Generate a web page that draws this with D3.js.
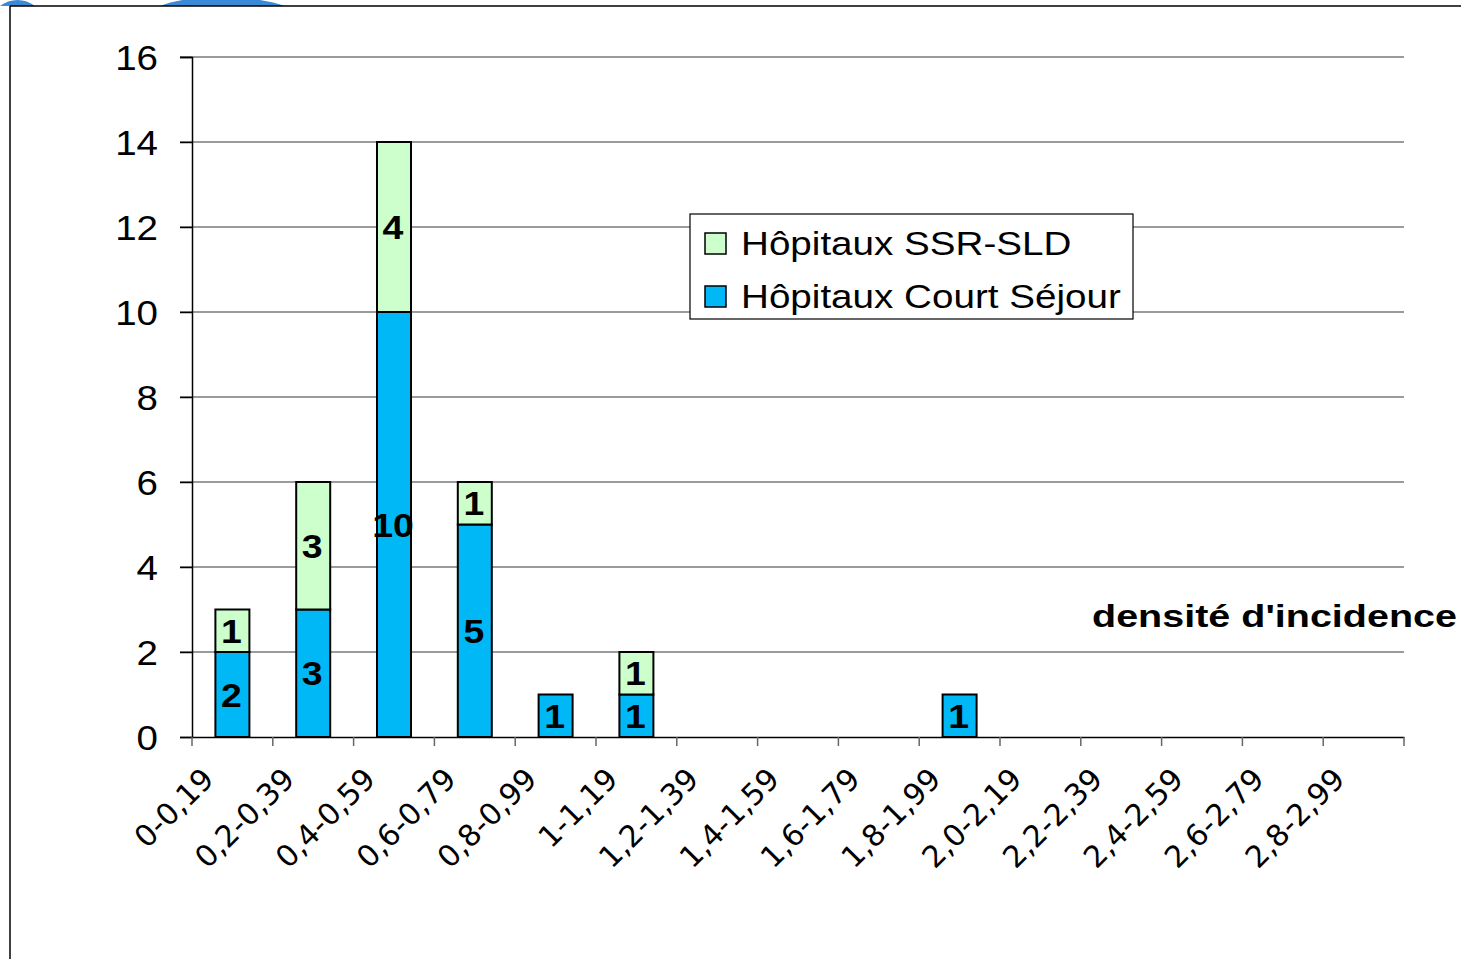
<!DOCTYPE html>
<html><head><meta charset="utf-8">
<script src="https://cdn.jsdelivr.net/npm/d3@7/dist/d3.min.js"></script>
<style>body{margin:0;background:#fff;}svg{display:block;}</style>
</head><body>
<svg id="c" width="1461" height="959"></svg>
<script>
const categories = ["0-0,19","0,2-0,39","0,4-0,59","0,6-0,79","0,8-0,99","1-1,19","1,2-1,39","1,4-1,59","1,6-1,79","1,8-1,99","2,0-2,19","2,2-2,39","2,4-2,59","2,6-2,79","2,8-2,99"];
const courtSejour = [2,3,10,5,1,1,0,0,0,1,0,0,0,0,0];
const ssrSld = [1,3,4,1,0,1,0,0,0,0,0,0,0,0,0];
const yTicks = [0,2,4,6,8,10,12,14,16];
const seriesNames = ["Hôpitaux SSR-SLD","Hôpitaux Court Séjour"];
const colors = {court:"#00B8F5", ssr:"#CCFFCC"};

const svg = d3.select("#c");
const W = 1461, H = 959;
const m = {left:192, right:1404, top:57, bottom:737};
const SANS = "Liberation Sans, Arial, sans-serif";

// decorative fragment at top-left
svg.append("path").attr("d","M0,6 C10,-2 25,-2 35,6 Z").attr("fill","#3a8ad8");
svg.append("path").attr("d","M160,6 C190,-6 250,-6 285,6 Z").attr("fill","#3a8ad8");
// frame
svg.append("line").attr("x1",10).attr("x2",W).attr("y1",6).attr("y2",6).attr("stroke","#000").attr("stroke-width",1.5);
svg.append("line").attr("x1",10).attr("x2",10).attr("y1",6).attr("y2",H).attr("stroke","#000").attr("stroke-width",1.5);

const x = d3.scaleBand().domain(categories).range([m.left, m.right]).paddingInner(0).paddingOuter(0);
const y = d3.scaleLinear().domain([0,16]).range([m.bottom, m.top]);

// gridlines
svg.append("g").selectAll("line").data(yTicks.filter(d=>d>0)).join("line")
  .attr("x1",m.left-12).attr("x2",m.right).attr("y1",d=>y(d)).attr("y2",d=>y(d))
  .attr("stroke","#7a7a7a").attr("stroke-width",1.5);

// y axis
const yAxis = d3.axisLeft(y).tickValues(yTicks).tickSize(12).tickPadding(0).tickFormat("");
const gy = svg.append("g").attr("transform",`translate(${m.left},0)`).call(yAxis);
gy.select(".domain").attr("stroke","#000").attr("stroke-width",1.5);
gy.selectAll(".tick line").attr("stroke","#000").attr("stroke-width",1.5);
svg.append("g").selectAll("text").data(yTicks).join("text")
  .attr("transform",d=>`translate(158,${y(d)}) scale(1.1,1)`)
  .attr("dy","0.36em").attr("text-anchor","end")
  .attr("font-family",SANS).attr("font-size",35).attr("fill","#000")
  .text(d=>d);

// bars
const stackData = categories.map((c,i)=>({cat:c, court:courtSejour[i], ssr:ssrSld[i]}));
const stack = d3.stack().keys(["court","ssr"])(stackData);
const bw = 34;
const bars = svg.append("g");
stack.forEach(layer=>{
  const key = layer.key;
  const segs = layer.filter(d=>d[1]-d[0]>0);
  bars.selectAll(null).data(segs).join("rect")
    .attr("x",d=>x(d.data.cat)+x.bandwidth()/2-bw/2)
    .attr("width",bw)
    .attr("y",d=>y(d[1]))
    .attr("height",d=>y(d[0])-y(d[1]))
    .attr("fill",colors[key]).attr("stroke","#000").attr("stroke-width",2);
  bars.selectAll(null).data(segs).join("text")
    .attr("transform",d=>`translate(${x(d.data.cat)+x.bandwidth()/2-1},${y((d[0]+d[1])/2)}) scale(1.1,1)`)
    .attr("dy","0.36em")
    .attr("text-anchor","middle")
    .attr("font-family",SANS).attr("font-weight","bold").attr("font-size",34)
    .attr("fill","#000")
    .text(d=>d[1]-d[0]);
});

// x axis
const xAxis = d3.axisBottom(x).tickSize(0).tickFormat("");
const gx = svg.append("g").attr("transform",`translate(0,${m.bottom})`).call(xAxis);
gx.select(".domain").attr("stroke","#000").attr("stroke-width",1.5);
const bounds = d3.range(categories.length+1).map(i=> i<categories.length ? x(categories[i]) : x(categories[i-1])+x.bandwidth());
svg.append("g").selectAll("line").data(bounds).join("line")
  .attr("x1",d=>d).attr("x2",d=>d).attr("y1",m.bottom).attr("y2",m.bottom+9)
  .attr("stroke","#666").attr("stroke-width",1.5);
svg.append("g").selectAll("text").data(categories).join("text")
  .attr("transform",d=>`translate(${x(d)+x.bandwidth()/2-17},${m.bottom+44}) rotate(-45)`)
  .attr("text-anchor","end")
  .attr("font-family","DejaVu Sans, sans-serif").attr("font-size",30).attr("fill","#000")
  .text(d=>d);

// y axis title, clipped at top
svg.append("clipPath").attr("id","ytclip").append("rect").attr("x",0).attr("y",228).attr("width",150).attr("height",700);
svg.append("text").attr("clip-path","url(#ytclip)")
  .attr("transform","translate(82,555) rotate(-90)")
  .attr("font-family",SANS).attr("font-weight","bold").attr("font-size",34).attr("fill","#000")
  .text("Nombre d'hôpitaux");

// x axis title
svg.append("text").attr("transform","translate(1092,627) scale(1.235,1)")
  .attr("font-family",SANS).attr("font-weight","bold").attr("font-size",32).attr("fill","#000")
  .text("densité d'incidence");

// legend
const lg = svg.append("g");
lg.append("rect").attr("x",690).attr("y",214).attr("width",443).attr("height",105).attr("fill","#fff").attr("stroke","#000").attr("stroke-width",1.2);
const legItems = [{name:seriesNames[0], color:colors.ssr},{name:seriesNames[1], color:colors.court}];
legItems.forEach((d,i)=>{
  const cy = 243 + i*53;
  lg.append("rect").attr("x",705).attr("y",cy-10).attr("width",21).attr("height",21).attr("fill",d.color).attr("stroke","#000").attr("stroke-width",1.5);
  lg.append("text").attr("transform",`translate(741,${cy}) scale(1.17,1)`).attr("dy","0.36em")
    .attr("font-family",SANS).attr("font-size",33).attr("fill","#000").text(d.name);
});
</script>
</body></html>
